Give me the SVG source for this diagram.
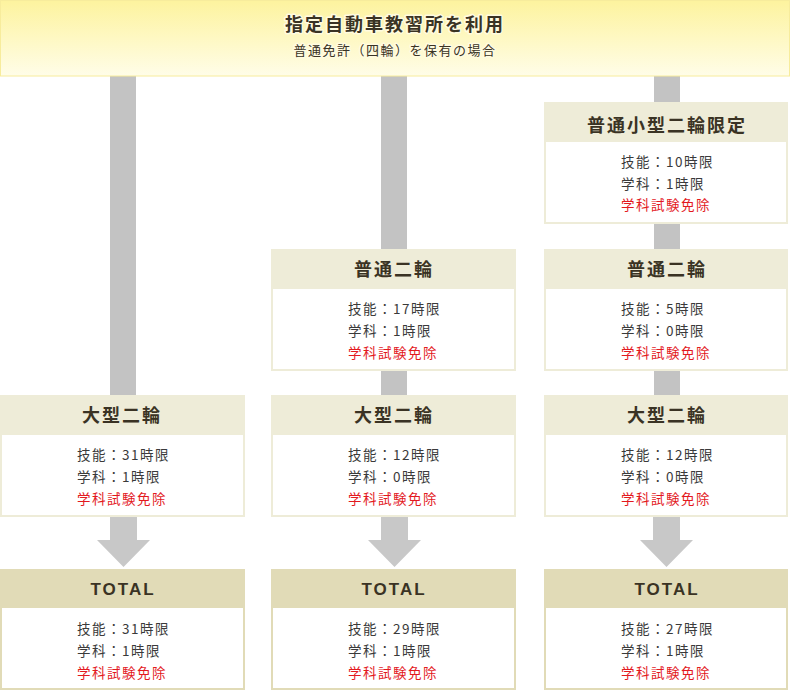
<svg xmlns="http://www.w3.org/2000/svg" width="790" height="690" viewBox="0 0 790 690">
<defs>
<linearGradient id="bg" x1="0" y1="0" x2="0" y2="1">
<stop offset="0" stop-color="#fdf39e"/>
<stop offset="1" stop-color="#fffde8"/>
</linearGradient>
<style>
text{font-family:"Noto Sans CJK JP","Noto Sans",sans-serif}
.ttl{font-size:18px;font-weight:bold;fill:#3a3324;text-anchor:middle;letter-spacing:2px}
.tot{font-family:"Liberation Sans",Arial,sans-serif;font-size:17px;font-weight:bold;fill:#3a3324;text-anchor:middle;letter-spacing:2px}
.bd{font-size:13.5px;fill:#3a3a3a;letter-spacing:1.5px}
.red{fill:#e3191e}
.hd{fill:#eeecd8}
.hdt{fill:#e1dbb7}
.wb{fill:#ffffff}
.bar{fill:#c3c3c3}
.arr{fill:#c8c8c8}
.glow{paint-order:stroke;stroke:#fffbe0;stroke-width:3px;stroke-linejoin:round}
</style>
</defs>
<rect width="790" height="690" fill="#ffffff"/>
<g id="connectors">
<rect class="bar" x="110" y="76" width="26" height="319"/>
<rect class="bar" x="381" y="76" width="26" height="173"/>
<rect class="bar" x="381" y="371" width="26" height="24"/>
<rect class="bar" x="654" y="76" width="26" height="26"/>
<rect class="bar" x="654" y="224" width="26" height="25"/>
<rect class="bar" x="654" y="371" width="26" height="24"/>
<polygon class="arr" points="110,517 137,517 137,540 150,540 123.5,567 97,540 110,540"/>
<polygon class="arr" points="381,517 408,517 408,540 421,540 394.5,567 368,540 381,540"/>
<polygon class="arr" points="653,517 680,517 680,540 693,540 666.5,567 640,540 653,540"/>
</g>
<g id="banner">
<rect x="0.5" y="0.5" width="789" height="75.5" fill="url(#bg)" stroke="#f7ec9c" stroke-width="1"/>
<text class="ttl glow" x="395" y="31" style="letter-spacing:2px">指定自動車教習所を利用</text>
<text class="glow" x="395" y="55" text-anchor="middle" style="font-size:13px;fill:#3a3324;letter-spacing:1.5px">普通免許（四輪）を保有の場合</text>
</g>
<g id="col3-small">
<rect class="hd" x="544" y="102" width="244" height="122"/>
<rect class="wb" x="546" y="142" width="240" height="80"/>
<text class="ttl" x="667" y="132">普通小型二輪限定</text>
<text class="bd" x="621" y="167">技能：10時限</text>
<text class="bd" x="621" y="189">学科：1時限</text>
<text class="bd red" x="621" y="210">学科試験免除</text>
</g>
<g id="col2-normal">
<rect class="hd" x="271" y="249" width="245" height="122"/>
<rect class="wb" x="273" y="289" width="241" height="80"/>
<text class="ttl" x="394" y="276">普通二輪</text>
<text class="bd" x="348" y="314">技能：17時限</text>
<text class="bd" x="348" y="336">学科：1時限</text>
<text class="bd red" x="348" y="358">学科試験免除</text>
</g>
<g id="col3-normal">
<rect class="hd" x="544" y="249" width="244" height="122"/>
<rect class="wb" x="546" y="289" width="240" height="80"/>
<text class="ttl" x="667" y="276">普通二輪</text>
<text class="bd" x="621" y="314">技能：5時限</text>
<text class="bd" x="621" y="336">学科：0時限</text>
<text class="bd red" x="621" y="358">学科試験免除</text>
</g>
<g id="col1-large">
<rect class="hd" x="0" y="395" width="245" height="122"/>
<rect class="wb" x="2" y="435" width="241" height="80"/>
<text class="ttl" x="122" y="422">大型二輪</text>
<text class="bd" x="77" y="460">技能：31時限</text>
<text class="bd" x="77" y="482">学科：1時限</text>
<text class="bd red" x="77" y="504">学科試験免除</text>
</g>
<g id="col2-large">
<rect class="hd" x="271" y="395" width="245" height="122"/>
<rect class="wb" x="273" y="435" width="241" height="80"/>
<text class="ttl" x="394" y="422">大型二輪</text>
<text class="bd" x="348" y="460">技能：12時限</text>
<text class="bd" x="348" y="482">学科：0時限</text>
<text class="bd red" x="348" y="504">学科試験免除</text>
</g>
<g id="col3-large">
<rect class="hd" x="544" y="395" width="244" height="122"/>
<rect class="wb" x="546" y="435" width="240" height="80"/>
<text class="ttl" x="667" y="422">大型二輪</text>
<text class="bd" x="621" y="460">技能：12時限</text>
<text class="bd" x="621" y="482">学科：0時限</text>
<text class="bd red" x="621" y="504">学科試験免除</text>
</g>
<g id="col1-total">
<rect class="hdt" x="0" y="569" width="245" height="121"/>
<rect class="wb" x="2" y="608" width="241" height="80"/>
<text class="tot" x="123" y="595">TOTAL</text>
<text class="bd" x="77" y="634">技能：31時限</text>
<text class="bd" x="77" y="656">学科：1時限</text>
<text class="bd red" x="77" y="678">学科試験免除</text>
</g>
<g id="col2-total">
<rect class="hdt" x="271" y="569" width="245" height="121"/>
<rect class="wb" x="273" y="608" width="241" height="80"/>
<text class="tot" x="394" y="595">TOTAL</text>
<text class="bd" x="348" y="634">技能：29時限</text>
<text class="bd" x="348" y="656">学科：1時限</text>
<text class="bd red" x="348" y="678">学科試験免除</text>
</g>
<g id="col3-total">
<rect class="hdt" x="544" y="569" width="244" height="121"/>
<rect class="wb" x="546" y="608" width="240" height="80"/>
<text class="tot" x="667" y="595">TOTAL</text>
<text class="bd" x="621" y="634">技能：27時限</text>
<text class="bd" x="621" y="656">学科：1時限</text>
<text class="bd red" x="621" y="678">学科試験免除</text>
</g>
</svg>
